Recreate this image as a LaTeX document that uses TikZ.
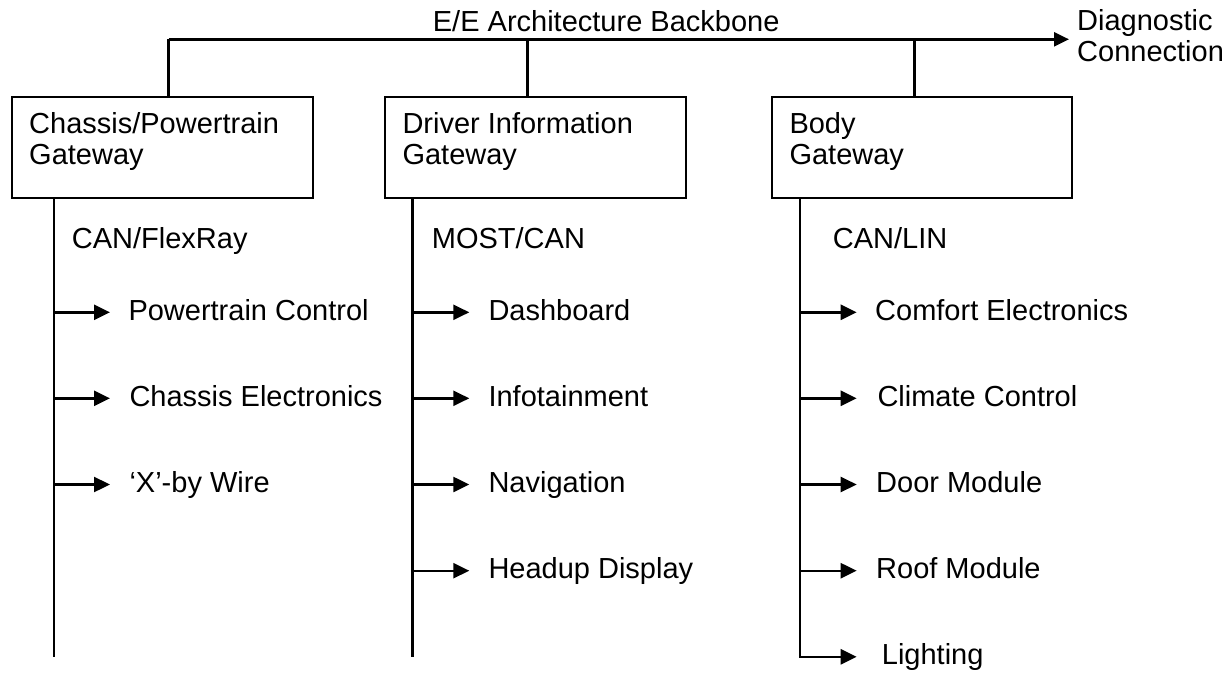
\documentclass[tikz,border=0pt]{standalone}
\usepackage{fontspec}
\setmainfont{Liberation Sans}
\usetikzlibrary{arrows.meta}
\begin{document}
\begin{tikzpicture}[x=1pt,y=-1pt,
  gwbox/.style={draw, line width=2.2pt, minimum width=301pt, minimum height=101pt,
    inner sep=0pt, anchor=north west},
  lbl/.style={anchor=base west, inner sep=0pt, font=\fontsize{29}{31}\selectfont},
  bus/.style={line width=2.4pt},
  feed/.style={line width=2.4pt, -{Triangle[length=16pt,width=15pt]}}]
\useasboundingbox (0,0) rectangle (1232,673);

% gateway boxes
\node[gwbox] (cpg) at (11,96) {};
\node[gwbox] (dig) at (384,96) {};
\node[gwbox, minimum width=300pt] (bdg) at (771,96) {};

\node[lbl] (cpg1) at (29,133) {Chassis/Powertrain};
\node[lbl] (cpg2) at (29,164) {Gateway};
\node[lbl] (dig1) at (402.3,133) {Driver Information};
\node[lbl] (dig2) at (402.3,164) {Gateway};
\node[lbl] (bdg1) at (789.3,133) {Body};
\node[lbl] (bdg2) at (789.3,164) {Gateway};

% backbone with diagnostic connection
\coordinate (bbL) at (168.5,39.3);
\coordinate (bbM) at (527.5,39.3);
\coordinate (bbR) at (914.3,39.3);
\coordinate (diag) at (1069,39.3);
\draw[bus, -{Triangle[length=15pt,width=14pt]}] (bbL) -- (diag);
\draw[bus] (bbL) -- (bbL |- cpg.north);
\draw[bus] (bbM) -- (bbM |- dig.north);
\draw[bus] (bbR) -- (bbR |- bdg.north);
\node[lbl] (bbt) at (432.7,31.7) {E/E Architecture Backbone};
\node[lbl] (dc1) at (1077,30) {Diagnostic};
\node[lbl] (dc2) at (1077,61) {Connection};

% sub-bus lines
\coordinate (c1top) at (54,197);
\coordinate (c1bot) at (54,656.8);
\coordinate (c2top) at (412.5,197);
\coordinate (c2bot) at (412.5,656.8);
\coordinate (c3top) at (800,197);
\coordinate (c3bot) at (800,656.8);
\draw[bus] (c1top) -- (c1bot);
\draw[bus] (c2top) -- (c2bot);

\node[lbl] (p1) at (71.7,248.3) {CAN/FlexRay};
\node[lbl] (p2) at (431.7,248.3) {MOST/CAN};
\node[lbl] (p3) at (832.7,248.3) {CAN/LIN};

% chassis/powertrain domain
\foreach \y/\tx/\t [count=\i] in {312.3/128.3/Powertrain Control,
    398.3/129.3/Chassis Electronics, 484.5/129.3/{‘X’-by Wire}} {
  \node[lbl] (a\i) at (\tx,\y+8) {\t};
  \coordinate (a\i s) at (54,\y);
  \coordinate (a\i e) at (110,\y);
  \draw[feed] (a\i s) -- (a\i e);
}

% driver information domain
\foreach \y/\t [count=\i] in {312.3/Dashboard, 398.3/Infotainment,
    484.5/Navigation, 570.7/Headup Display} {
  \node[lbl] (b\i) at (488.3,\y+8) {\t};
  \coordinate (b\i s) at (412.5,\y);
  \coordinate (b\i e) at (469.3,\y);
  \draw[feed] (b\i s) -- (b\i e);
}

% body domain
\foreach \y/\tx/\t [count=\i] in {312.3/875/Comfort Electronics,
    398.3/877.3/Climate Control, 484.5/876/Door Module,
    570.7/876/Roof Module} {
  \node[lbl] (d\i) at (\tx,\y+8) {\t};
  \coordinate (d\i s) at (800,\y);
  \coordinate (d\i e) at (856.7,\y);
  \draw[feed] (d\i s) -- (d\i e);
}
\node[lbl] (d5) at (881.7,664.8) {Lighting};
\coordinate (d5e) at (856.7,656.8);
\draw[feed] (c3top) -- (c3bot) -- (d5e);
\end{tikzpicture}
\end{document}
